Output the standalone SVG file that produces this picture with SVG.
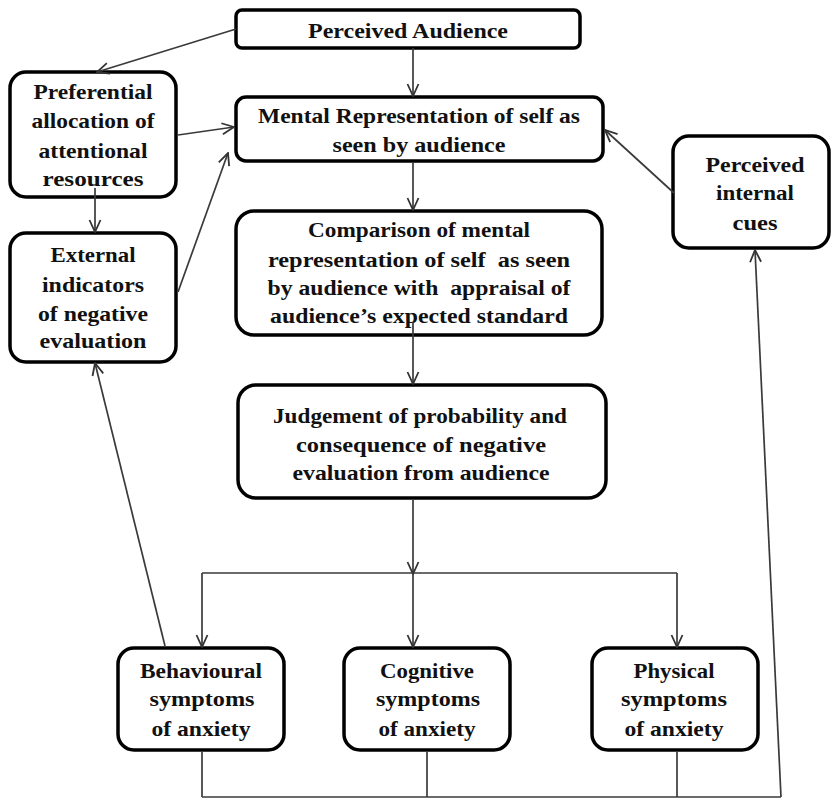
<svg xmlns="http://www.w3.org/2000/svg" width="833" height="800" viewBox="0 0 833 800">
<defs>
<marker id="arr" viewBox="0 0 14 14" refX="13" refY="7" markerWidth="14" markerHeight="14" markerUnits="userSpaceOnUse" orient="auto">
<path d="M1,1.5 L13,7 L1,12.5" fill="none" stroke="#333" stroke-width="1.8"/>
</marker>
<style>
.box{fill:#fff;stroke:#000;stroke-width:3.5}
.t{font-family:"Liberation Serif","Times New Roman",serif;font-weight:bold;font-size:22px;fill:#111;text-anchor:middle;white-space:pre}
.c{fill:none;stroke:#3a3a3a;stroke-width:1.7}
.a{marker-end:url(#arr)}
</style>
</defs>
<rect width="833" height="800" fill="#fff"/>
<g id="perceived-audience">
<rect class="box" x="236" y="10" width="344" height="38" rx="6"/>
<text class="t" x="408" y="38" textLength="200" lengthAdjust="spacingAndGlyphs">Perceived Audience</text>
</g>
<g id="preferential">
<rect class="box" x="10" y="72" width="166" height="125" rx="16"/>
<text class="t" x="93" y="99" textLength="119" lengthAdjust="spacingAndGlyphs">Preferential</text>
<text class="t" x="93" y="128" textLength="123" lengthAdjust="spacingAndGlyphs">allocation of</text>
<text class="t" x="93" y="158" textLength="109" lengthAdjust="spacingAndGlyphs">attentional</text>
<text class="t" x="93" y="186" textLength="101" lengthAdjust="spacingAndGlyphs">resources</text>
</g>
<g id="external">
<rect class="box" x="10" y="233" width="166" height="129" rx="16"/>
<text class="t" x="93" y="262" textLength="85" lengthAdjust="spacingAndGlyphs">External</text>
<text class="t" x="93" y="292" textLength="102" lengthAdjust="spacingAndGlyphs">indicators</text>
<text class="t" x="93" y="321" textLength="110" lengthAdjust="spacingAndGlyphs">of negative</text>
<text class="t" x="93" y="348" textLength="107" lengthAdjust="spacingAndGlyphs">evaluation</text>
</g>
<g id="mental-representation">
<rect class="box" x="236" y="97" width="367" height="64" rx="10"/>
<text class="t" x="419" y="123" textLength="322" lengthAdjust="spacingAndGlyphs">Mental Representation of self as</text>
<text class="t" x="419" y="152" textLength="173" lengthAdjust="spacingAndGlyphs">seen by audience</text>
</g>
<g id="comparison">
<rect class="box" x="236" y="211" width="366" height="124" rx="18"/>
<text class="t" x="419" y="237" textLength="222" lengthAdjust="spacingAndGlyphs">Comparison of mental</text>
<text class="t" x="419" y="267" textLength="302" lengthAdjust="spacingAndGlyphs">representation of self  as seen</text>
<text class="t" x="419" y="295" textLength="303" lengthAdjust="spacingAndGlyphs">by audience with  appraisal of</text>
<text class="t" x="419" y="323" textLength="298" lengthAdjust="spacingAndGlyphs">audience’s expected standard</text>
</g>
<g id="internal-cues">
<rect class="box" x="673" y="136" width="156" height="112" rx="16"/>
<text class="t" x="755" y="172" textLength="99" lengthAdjust="spacingAndGlyphs">Perceived</text>
<text class="t" x="755" y="200" textLength="78" lengthAdjust="spacingAndGlyphs">internal</text>
<text class="t" x="755" y="230" textLength="45" lengthAdjust="spacingAndGlyphs">cues</text>
</g>
<g id="judgement">
<rect class="box" x="238" y="385" width="368" height="113" rx="18"/>
<text class="t" x="420" y="423" textLength="294" lengthAdjust="spacingAndGlyphs">Judgement of probability and</text>
<text class="t" x="421" y="452" textLength="250" lengthAdjust="spacingAndGlyphs">consequence of negative</text>
<text class="t" x="421" y="480" textLength="257" lengthAdjust="spacingAndGlyphs">evaluation from audience</text>
</g>
<g id="behavioural">
<rect class="box" x="118" y="648" width="166" height="102" rx="16"/>
<text class="t" x="201" y="678" textLength="122" lengthAdjust="spacingAndGlyphs">Behavioural</text>
<text class="t" x="202" y="706" textLength="105" lengthAdjust="spacingAndGlyphs">symptoms</text>
<text class="t" x="201" y="736" textLength="99" lengthAdjust="spacingAndGlyphs">of anxiety</text>
</g>
<g id="cognitive">
<rect class="box" x="344" y="648" width="166" height="102" rx="16"/>
<text class="t" x="427" y="678" textLength="94" lengthAdjust="spacingAndGlyphs">Cognitive</text>
<text class="t" x="428" y="706" textLength="104" lengthAdjust="spacingAndGlyphs">symptoms</text>
<text class="t" x="427" y="736" textLength="97" lengthAdjust="spacingAndGlyphs">of anxiety</text>
</g>
<g id="physical">
<rect class="box" x="592" y="648" width="166" height="102" rx="16"/>
<text class="t" x="674" y="678" textLength="81" lengthAdjust="spacingAndGlyphs">Physical</text>
<text class="t" x="674" y="706" textLength="106" lengthAdjust="spacingAndGlyphs">symptoms</text>
<text class="t" x="674" y="736" textLength="99" lengthAdjust="spacingAndGlyphs">of anxiety</text>
</g>
<g id="connectors">
<line class="c a" x1="236" y1="29" x2="97" y2="72"/>
<line class="c a" x1="413" y1="48" x2="413" y2="96"/>
<line class="c a" x1="178" y1="135" x2="234" y2="127"/>
<line class="c a" x1="95" y1="188" x2="95" y2="232"/>
<line class="c a" x1="178" y1="292" x2="228" y2="153"/>
<line class="c a" x1="674" y1="193" x2="605" y2="130"/>
<line class="c a" x1="413" y1="162" x2="413" y2="210"/>
<line class="c a" x1="413" y1="322" x2="413" y2="384"/>
<line class="c a" x1="413" y1="500" x2="413" y2="574"/>
<polyline class="c" points="202,573 677,573"/>
<line class="c a" x1="202" y1="573" x2="202" y2="647"/>
<line class="c a" x1="413" y1="573" x2="413" y2="647"/>
<line class="c a" x1="677" y1="573" x2="677" y2="647"/>
<line class="c" x1="202" y1="752" x2="202" y2="797"/>
<line class="c" x1="427" y1="752" x2="427" y2="797"/>
<line class="c" x1="677" y1="752" x2="677" y2="797"/>
<line class="c" x1="202" y1="797" x2="781" y2="797"/>
<line class="c a" x1="781" y1="797" x2="755" y2="250"/>
<line class="c a" x1="165" y1="646" x2="95" y2="363"/>
</g>
</svg>
